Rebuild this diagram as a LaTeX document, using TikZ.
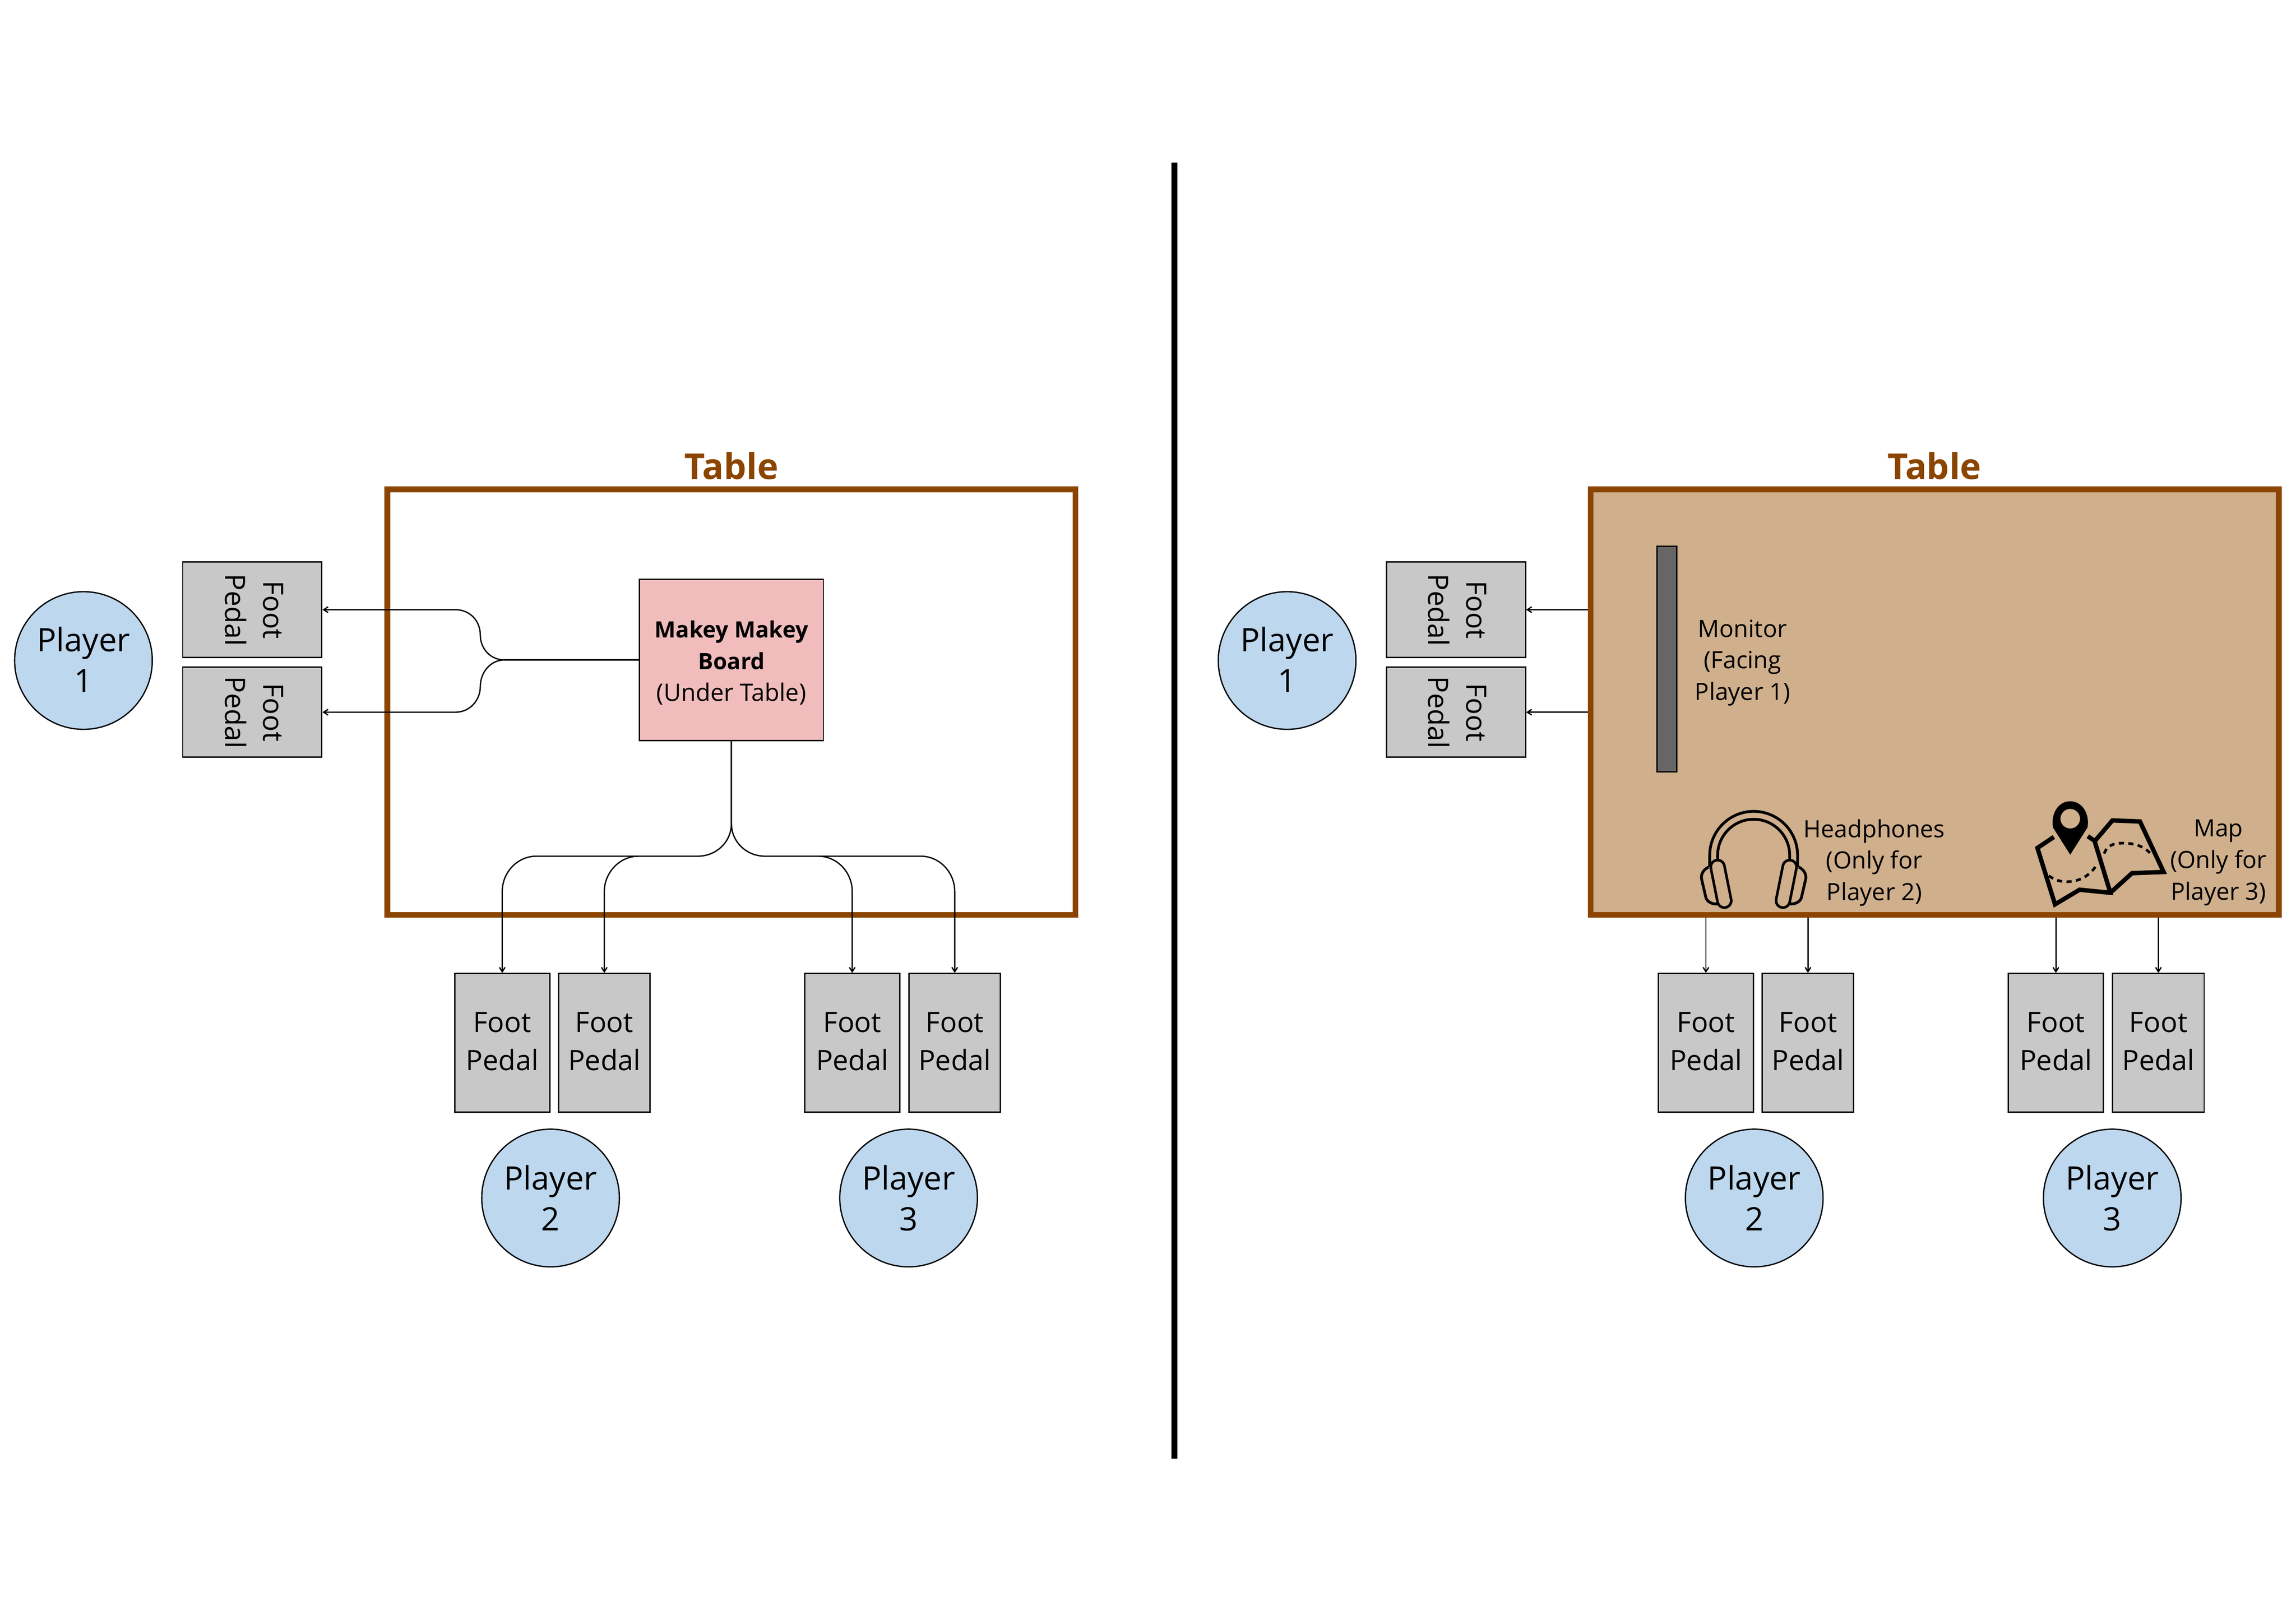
\documentclass[tikz,border=0pt]{standalone}
\usepackage{fontspec}
\setmainfont{Open Sans}
\usetikzlibrary{arrows.meta}
\definecolor{tablebrown}{HTML}{8B4500}
\definecolor{tabletan}{HTML}{CFAF8C}
\definecolor{boardpink}{HTML}{F0BCBC}
\definecolor{pedalgray}{HTML}{C8C8C8}
\definecolor{playerblue}{HTML}{BDD7EE}
\definecolor{monitorgray}{HTML}{666666}
\def\uu{0.03986cm}
\tikzset{
  x=\uu, y=-\uu,
  thinline/.style={draw=black,line width=1pt},
  pedalbox/.style={thinline,fill=pedalgray,inner sep=0pt},
  pedalv/.style={pedalbox,minimum width=65*\uu,minimum height=94.5*\uu},
  pedalh/.style={pedalbox,minimum height=95*\uu},
  vtext/.style={inner sep=0pt,align=center,font=\fontsize{21.7}{29.5}\selectfont},
  player/.style={thinline,fill=playerblue,circle,minimum size=94*\uu,inner sep=0pt},
  playertext/.style={inner sep=0pt,align=center,font=\fontsize{25}{31.7}\selectfont},
  tablebox/.style={draw=tablebrown,line width=3.8*\uu,inner sep=0pt,minimum width=470*\uu,minimum height=290.5*\uu},
  tabletitle/.style={text=tablebrown,font=\fontsize{27.6}{30}\selectfont\bfseries,inner sep=0pt},
  small/.style={align=center,inner sep=0pt,font=\fontsize{18.4}{24.4}\selectfont},
  link/.style={draw=black,line width=1pt},
  linkarrow/.style={link,-{Straight Barb[length=3.4pt,width=4.4pt,line width=1pt]}},
  icon/.style={draw=black,line width=3*\uu,line join=miter},
}
\begin{document}
\begin{tikzpicture}
\useasboundingbox[fill=white] (0,0) rectangle (1568,1108.6);

% divider
\coordinate (divtop) at (802,111);
\coordinate (divbot) at (802,996);
\draw[line width=4*\uu,draw=black] (divtop) -- (divbot);

% ---------- left ----------
\node[tablebox] (tableL) at (499.5,479.4) {};
\node[tabletitle] (titleL) at (499.5,318) {Table};
\node[thinline,fill=boardpink,minimum width=125.5*\uu,minimum height=110*\uu,inner sep=0pt] (board) at (499.5,450.6) {};
\node[inner sep=0pt,align=center,font=\fontsize{18.6}{24.4}\selectfont] (boardtext) at (499.5,452.5) {\fontsize{17.4}{24.4}\selectfont\textbf{Makey Makey}\\\fontsize{17.4}{24.4}\selectfont\textbf{Board}\\(Under Table)};

\node[pedalh,minimum width=95*\uu,minimum height=65*\uu] (lp1a) at (172.3,416.3) {};
\node[pedalh,minimum width=95*\uu,minimum height=61.5*\uu] (lp1b) at (172.3,486.3) {};
\node[vtext,rotate=-90] (lt1a) at (173.5,416.5) {Foot\\Pedal};
\node[vtext,rotate=-90] (lt1b) at (173.5,486.5) {Foot\\Pedal};
\node[pedalv] (lp2a) at (343,712) {};
\node[pedalv,minimum width=62.5*\uu] (lp2b) at (412.7,712) {};
\node[pedalv] (lp3a) at (582,712) {};
\node[pedalv,minimum width=62.5*\uu] (lp3b) at (652,712) {};
\node[vtext] (lt2a) at (343,711) {Foot\\Pedal};
\node[vtext] (lt2b) at (412.7,711) {Foot\\Pedal};
\node[vtext] (lt3a) at (582,711) {Foot\\Pedal};
\node[vtext] (lt3b) at (652,711) {Foot\\Pedal};

\node[player] (lpl1) at (57,451) {};
\node[player] (lpl2) at (376,818) {};
\node[player] (lpl3) at (620.5,818) {};
\node[playertext] (ltp1) at (57,450.5) {Player\\1};
\node[playertext] (ltp2) at (376,818) {Player\\2};
\node[playertext] (ltp3) at (620.5,818) {Player\\3};

% left connectors
\draw[linkarrow] (board.west) -- (344.5,450.6) .. controls (335,450.6) and (328,443) .. (328,433.5)
  .. controls (328,424) and (321,416.3) .. (311,416.3) -- (lp1a.east);
\draw[linkarrow] (board.west) -- (344.5,450.6) .. controls (335,450.6) and (328,459) .. (328,468.9)
  .. controls (328,478) and (321,486.3) .. (311,486.3) -- (lp1b.east);
\draw[linkarrow] (board.south) -- (499.5,562.3) .. controls (499.5,575) and (489,584.6) .. (476.7,584.6)
  -- (366.3,584.6) .. controls (353,584.6) and (343,596) .. (343,608.6) -- (lp2a.north);
\draw[linkarrow] (436,584.6) .. controls (423,584.6) and (412.7,596) .. (412.7,608.6) -- (lp2b.north);
\draw[linkarrow] (board.south) -- (499.5,562.3) .. controls (499.5,575) and (510,584.6) .. (522.3,584.6)
  -- (628.7,584.6) .. controls (642,584.6) and (652,596) .. (652,608.6) -- (lp3b.north);
\draw[linkarrow] (558.7,584.6) .. controls (572,584.6) and (582,596) .. (582,608.6) -- (lp3a.north);

% ---------- right ----------
\node[tablebox,fill=tabletan] (tableR) at (1321.2,479.4) {};
\node[tabletitle] (titleR) at (1321,318) {Table};
\node[thinline,fill=monitorgray,minimum width=13.5*\uu,minimum height=154*\uu,inner sep=0pt] (monitor) at (1138.25,450) {};
\node[small] (monlabel) at (1190,452.5) {Monitor\\(Facing\\Player 1)};
\node[small] (hplabel) at (1280,589) {Headphones\\(Only for\\Player 2)};
\node[small] (maplabel) at (1515,589) {Map\\(Only for\\Player 3)};

\node[pedalh,minimum width=95*\uu,minimum height=65*\uu] (rp1a) at (994.3,416.3) {};
\node[pedalh,minimum width=95*\uu,minimum height=61.5*\uu] (rp1b) at (994.3,486.3) {};
\node[vtext,rotate=-90] (rt1a) at (995.3,416.5) {Foot\\Pedal};
\node[vtext,rotate=-90] (rt1b) at (995.3,486.5) {Foot\\Pedal};
\node[pedalv] (rp2a) at (1165,712) {};
\node[pedalv,minimum width=62.5*\uu] (rp2b) at (1234.7,712) {};
\node[pedalv] (rp3a) at (1404,712) {};
\node[pedalv,minimum width=62.5*\uu] (rp3b) at (1474,712) {};
\node[vtext] (rt2a) at (1165,711) {Foot\\Pedal};
\node[vtext] (rt2b) at (1234.7,711) {Foot\\Pedal};
\node[vtext] (rt3a) at (1404,711) {Foot\\Pedal};
\node[vtext] (rt3b) at (1474,711) {Foot\\Pedal};

\node[player] (rpl1) at (879,451) {};
\node[player] (rpl2) at (1198,818) {};
\node[player] (rpl3) at (1442.5,818) {};
\node[playertext] (rtp1) at (879,450.5) {Player\\1};
\node[playertext] (rtp2) at (1198,818) {Player\\2};
\node[playertext] (rtp3) at (1442.5,818) {Player\\3};

% right connectors
\draw[linkarrow] (tableR.west |- rp1a.east) -- (rp1a.east);
\draw[linkarrow] (tableR.west |- rp1b.east) -- (rp1b.east);
\draw[linkarrow] (tableR.south -| rp2a.north) -- (rp2a.north);
\draw[linkarrow] (tableR.south -| rp2b.north) -- (rp2b.north);
\draw[linkarrow] (tableR.south -| rp3a.north) -- (rp3a.north);
\draw[linkarrow] (tableR.south -| rp3b.north) -- (rp3b.north);

% headphones icon
\begin{scope}[line width=1.9*\uu,draw=black]
  \draw (1167.6,592) -- (1167.6,584) arc[start angle=180,end angle=360,radius=30] -- (1227.6,592);
  \draw (1173,590) -- (1173,584) arc[start angle=180,end angle=360,radius=24.6] -- (1222.2,590);
  \draw[fill=tabletan] (1166.8,592) .. controls (1163,594) and (1161.6,597) .. (1162,600) -- (1165,613)
     .. controls (1166,616) and (1170,618) .. (1174,617);
  \draw[fill=tabletan] (1228.4,592) .. controls (1232.2,594) and (1233.6,597) .. (1233.2,600) -- (1230.2,613)
     .. controls (1229.2,616) and (1225.2,618) .. (1221.2,617);
\end{scope}
\draw[line width=11.2*\uu,line cap=round] (1173,592) -- (1177.6,615);
\draw[line width=7.6*\uu,line cap=round,tabletan] (1173,592) -- (1177.6,615);
\draw[line width=11.2*\uu,line cap=round] (1222.2,592) -- (1217.6,615);
\draw[line width=7.6*\uu,line cap=round,tabletan] (1222.2,592) -- (1217.6,615);

% map icon
\draw[icon] (1402.6,571.5) -- (1391.4,579) -- (1403.4,617.5) -- (1420.2,607.5) -- (1441.2,609.6) -- (1430,572.8);
\draw[icon] (1425.8,571) -- (1431,574.5);
\draw[icon] (1430,575) -- (1442.6,560.2) -- (1461.4,560.9) -- (1477.6,595.4) -- (1456,596.2) -- (1441.2,609.6);
\draw[line width=1.8*\uu,dash pattern=on 3.5*\uu off 3*\uu] (1437,582.8) .. controls (1439,577) and (1444,575.7) .. (1449.6,575.7) .. controls (1458,575.7) and (1465,578) .. (1469.2,583.6);
\draw[line width=1.8*\uu,dash pattern=on 3.5*\uu off 3*\uu] (1399.2,597.9) .. controls (1403,601) and (1407,602) .. (1411.8,602) .. controls (1420,602) and (1427,598) .. (1431.4,591.2);
\fill[black,even odd rule] (1413.8,583.6) -- (1402,565) .. controls (1400.4,555) and (1406,547.1) .. (1413.8,547.1)
  .. controls (1421.6,547.1) and (1427.2,555) .. (1425.6,565) -- cycle
  (1413.8,559) circle[x radius=6.7,y radius=6.7];
\end{tikzpicture}
\end{document}
